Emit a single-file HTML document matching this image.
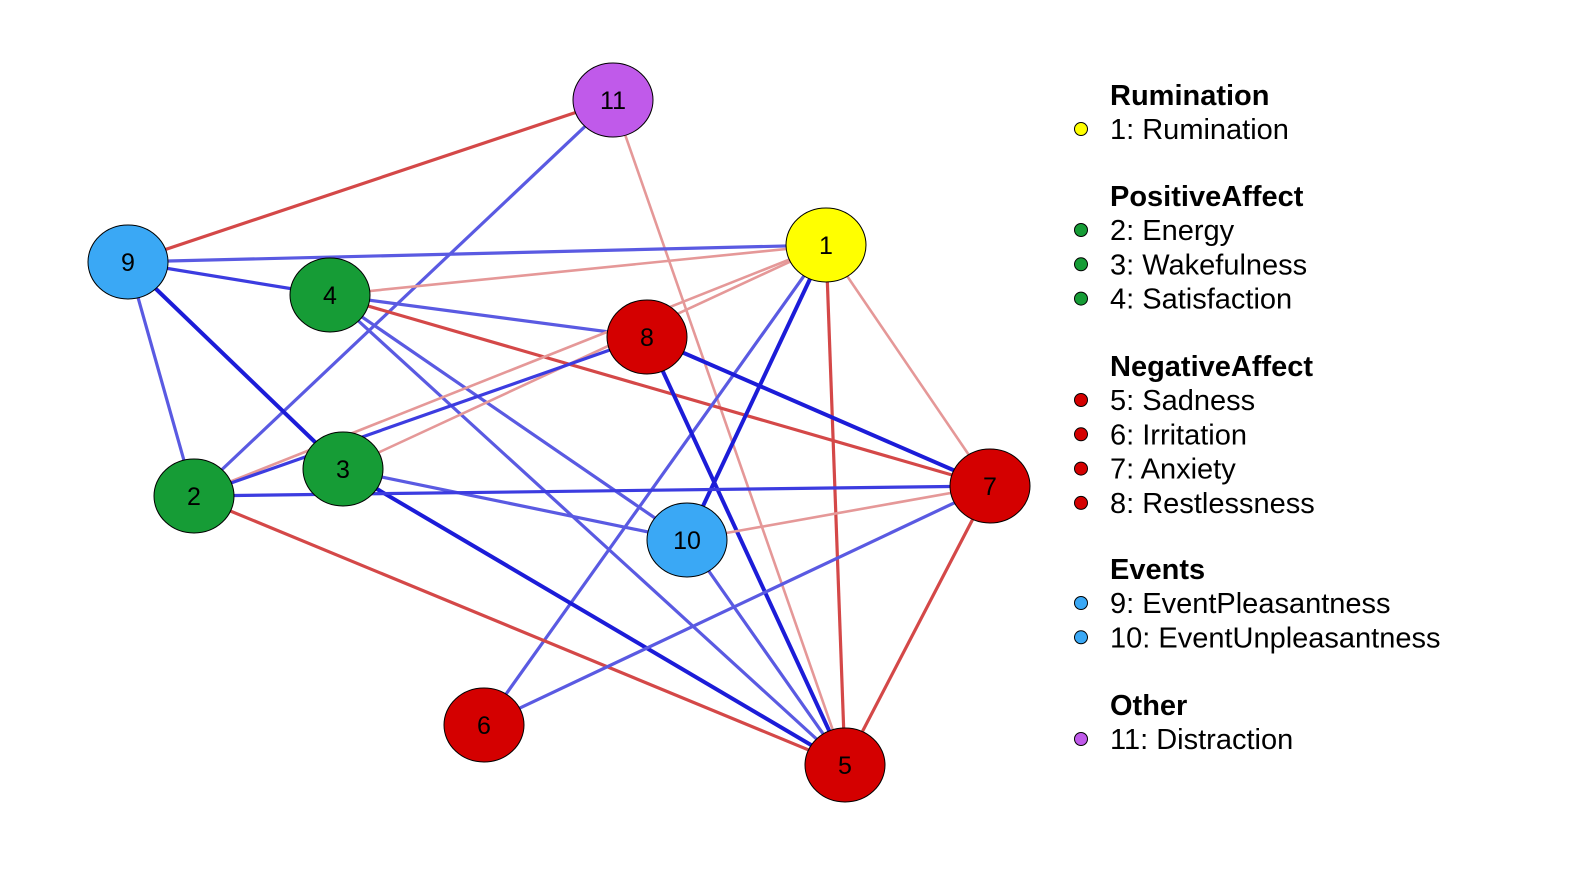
<!DOCTYPE html>
<html><head><meta charset="utf-8"><style>
body{margin:0;background:#fff}
svg text{font-family:"Liberation Sans",Arial,sans-serif}
</style></head><body>
<svg id="g" width="1583" height="872"></svg>
<script>
const nodeIds=[1,2,3,4,5,6,7,8,9,10,11];
const nodeX=[826,194,343,330,845,484,990,647,128,687,613];
const nodeY=[245,496,469,295,765,725,486,337,262,540,100];
const nodeGroup=[0,1,1,1,2,2,2,2,3,3,4];
const gColor=["#FFFF00","#169C36","#D40000","#3AA8F5","#C05AEA"];
const edgeFrom=[11,11,11,9,9,9,9,4,4,4,4,4,1,1,1,1,1,1,8,8,8,3,3,2,2,10,10,6,7];
const edgeTo=  [9,2,5,1,4,3,2,1,8,7,10,5,3,2,10,6,5,7,2,7,5,10,5,7,5,7,5,7,5];
const edgeW=   [-0.35,0.35,-0.2,0.35,0.45,0.7,0.35,-0.2,0.35,-0.35,0.35,0.35,-0.2,-0.2,0.6,0.3,-0.35,-0.2,0.45,0.6,0.6,0.3,0.6,0.4,-0.35,-0.2,0.3,0.3,-0.35];
const legendGroups=["Rumination","PositiveAffect","NegativeAffect","Events","Other"];
const legendItems=[["1: Rumination"],["2: Energy","3: Wakefulness","4: Satisfaction"],["5: Sadness","6: Irritation","7: Anxiety","8: Restlessness"],["9: EventPleasantness","10: EventUnpleasantness"],["11: Distraction"]];
const NS="http://www.w3.org/2000/svg";
const svg=document.getElementById('g');
function mk(t,a){const e=document.createElementNS(NS,t);for(const k in a)e.setAttribute(k,a[k]);svg.appendChild(e);return e;}
edgeFrom.forEach((f,i)=>{
  const a=nodeIds.indexOf(f),b=nodeIds.indexOf(edgeTo[i]),w=edgeW[i];
  let col;
  if(w>0){col=w>=0.55?"#1C1CD8":(w>=0.4?"#3C3CE0":"#5A5AE2");}
  else col=w<=-0.3?"#D44848":"#E59898";
  const lw=w>0?(w>=0.55?4:3.2):(w<=-0.3?3.2:2.6);
  const l=mk('line',{x1:nodeX[a],y1:nodeY[a],x2:nodeX[b],y2:nodeY[b],stroke:col,'stroke-width':lw});
  
  
});
nodeIds.forEach((id,i)=>{
  const e=mk('ellipse',{cx:nodeX[i],cy:nodeY[i],rx:40,ry:37,fill:gColor[nodeGroup[i]],stroke:'#000','stroke-width':1});
  
  
  const t=mk('text',{x:nodeX[i],y:nodeY[i]+9,'text-anchor':'middle','font-size':25,fill:'#000'});
  t.textContent=id;
  
  
});
const titleY=[105,206,376,579,715];
legendGroups.forEach((g,gi)=>{
  const t=mk('text',{x:1110,y:titleY[gi],'font-size':29,'font-weight':'bold',fill:'#000'});
  t.textContent=g;
  
  
  legendItems[gi].forEach((it,j)=>{
    const y=titleY[gi]+34+j*34.3;
    const c=mk('circle',{cx:1081,cy:y-10,r:6.5,fill:gColor[gi],stroke:'#000','stroke-width':1});
    
    
    const tt=mk('text',{x:1110,y:y,'font-size':29,fill:'#000'});
    tt.textContent=it;
    
    
  });
});
</script>
</body></html>
